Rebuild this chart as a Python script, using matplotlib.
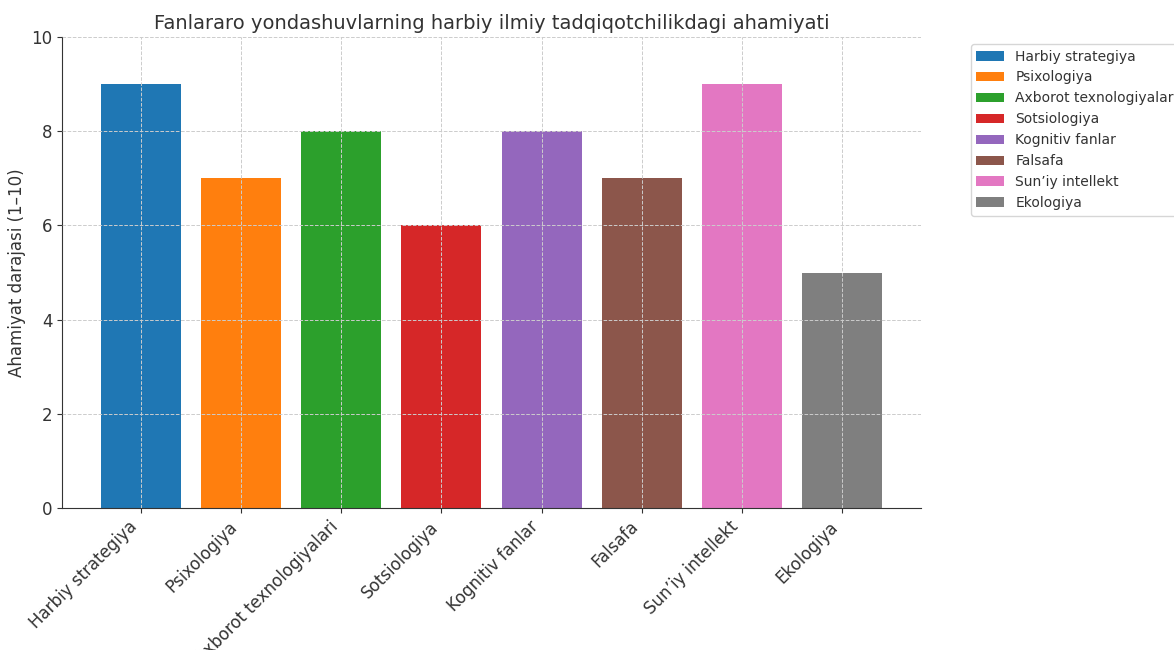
import matplotlib
matplotlib.use("Agg")
import matplotlib.pyplot as plt

categories = ["Harbiy strategiya", "Psixologiya", "Axborot texnologiyalari", "Sotsiologiya",
              "Kognitiv fanlar", "Falsafa", "Sun’iy intellekt", "Ekologiya"]
legend_labels = ["Harbiy strategiya", "Psixologiya", "Axborot texnologiyalar", "Sotsiologiya",
                 "Kognitiv fanlar", "Falsafa", "Sun’iy intellekt", "Ekologiya"]
values = [9, 7, 8, 6, 8, 7, 9, 5]
colors = ["#1f77b4", "#ff7f0e", "#2ca02c", "#d62728", "#9467bd", "#8c564b", "#e377c2", "#7f7f7f"]
title = "Fanlararo yondashuvlarning harbiy ilmiy tadqiqotchilikdagi ahamiyati"
ylabel = "Ahamiyat darajasi (1–10)"

txt = "#333333"
plt.rcParams['text.color'] = txt
plt.rcParams['axes.labelcolor'] = txt
plt.rcParams['xtick.color'] = txt
plt.rcParams['ytick.color'] = txt

fig = plt.figure(figsize=(11.74, 6.5), dpi=100)
ax = fig.add_axes([62/1174, 1-508/650, (921-62)/1174, (508-37)/650])

bars = ax.bar(range(len(categories)), values, color=colors, width=0.8, label=legend_labels, zorder=2)
ax.set_ylim(0, 10)
ax.set_xticks(range(len(categories)))
ax.set_xticklabels(categories, rotation=45, ha="right", fontsize=12)
ax.tick_params(axis='y', labelsize=12)
ax.set_ylabel(ylabel, fontsize=12)
ax.set_title(title, fontsize=14, pad=6)
ax.grid(True, linestyle="--", color="#cccccc", linewidth=0.7, zorder=0)
ax.set_axisbelow(False)
for s in ["top", "right"]:
    ax.spines[s].set_visible(False)
for s in ["left", "bottom"]:
    ax.spines[s].set_color(txt)
ax.legend(handles=bars, labels=legend_labels, loc="upper left", bbox_to_anchor=(1.05, 1),
          fontsize=10)

fig.savefig("out.png", dpi=100)
